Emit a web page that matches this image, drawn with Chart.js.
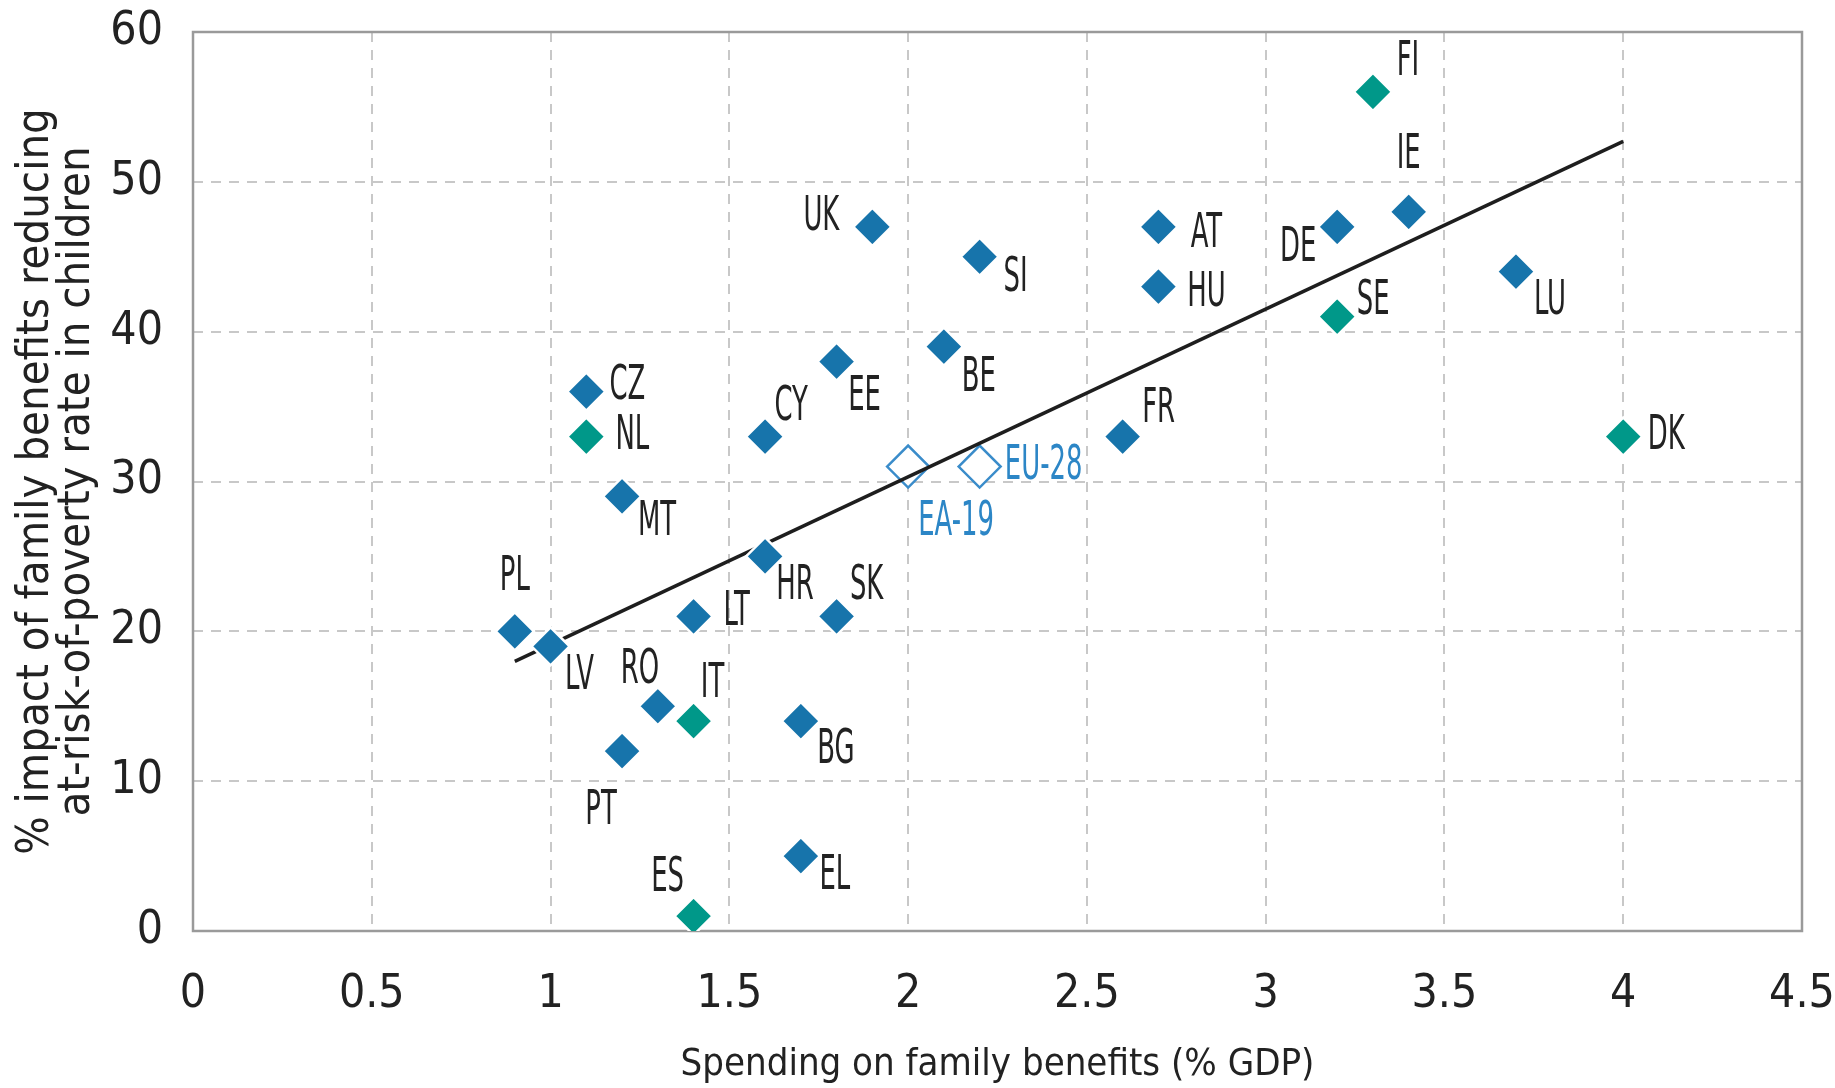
<!DOCTYPE html>
<html>
<head>
<meta charset="utf-8">
<script src="https://cdn.jsdelivr.net/npm/chart.js@4.4.1/dist/chart.umd.min.js"></script>
<style>
  html, body { margin: 0; padding: 0; background: #fff; }
  #wrap { width: 1835px; height: 1088px; position: relative; }
</style>
</head>
<body>
<div id="wrap"><canvas id="chart"></canvas></div>
<script>
// country codes, spending (% GDP), impact on child poverty (%), group
const countries = ['FI', 'IE', 'UK', 'SI', 'AT', 'HU', 'DE', 'SE', 'LU', 'BE', 'EE', 'CZ', 'NL', 'CY', 'FR', 'DK',
  'EA-19', 'EU-28', 'MT', 'HR', 'PL', 'LV', 'LT', 'SK', 'RO', 'IT', 'BG', 'PT', 'EL', 'ES'];
const spending = [3.3, 3.4, 1.9, 2.2, 2.7, 2.7, 3.2, 3.2, 3.7, 2.1, 1.8, 1.1, 1.1, 1.6, 2.6, 4.0,
  2.0, 2.2, 1.2, 1.6, 0.9, 1.0, 1.4, 1.8, 1.3, 1.4, 1.7, 1.2, 1.7, 1.4];
const impact = [56, 48, 47, 45, 47, 43, 47, 41, 44, 39, 38, 36, 33, 33, 33, 33,
  31, 31, 29, 25, 20, 19, 21, 21, 15, 14, 14, 12, 5, 1];
// b = blue, t = teal, a = EU / euro area aggregate
const groups = ['t', 'b', 'b', 'b', 'b', 'b', 'b', 't', 'b', 'b', 'b', 'b', 't', 'b', 'b', 't',
  'a', 'a', 'b', 'b', 'b', 'b', 'b', 'b', 'b', 't', 'b', 'b', 'b', 't'];

// linear fit, end points
const trendX = [0.9, 4.0];
const trendY = [18.0, 52.7];

const xTicks = [0, 0.5, 1, 1.5, 2, 2.5, 3, 3.5, 4, 4.5];
const yTicks = [0, 10, 20, 30, 40, 50, 60];

// where each label sits relative to its marker (px)
const labelOffset = {
  'FI': [35, -29], 'IE': [0, -56], 'UK': [-51, -9], 'SI': [36, 22], 'AT': [48, 8], 'HU': [48, 7],
  'DE': [-39, 22], 'SE': [36, -15], 'LU': [34, 30], 'BE': [35, 32], 'EE': [28, 36], 'CZ': [41, -5],
  'NL': [46, 0], 'CY': [26, -29], 'FR': [36, -27], 'DK': [43, 0], 'EA-19': [48, 56], 'EU-28': [64, 0],
  'MT': [35, 26], 'HR': [30, 30], 'PL': [0, -54], 'LV': [29, 30], 'LT': [43, -4], 'SK': [30, -30],
  'RO': [-18, -36], 'IT': [19, -37], 'BG': [35, 29], 'PT': [-21, 60], 'EL': [34, 20], 'ES': [-26, -37]
};

const BLUE = '#1774ab';
const TEAL = '#009889';
const AGG = '#3a8cca';
const NARROW = '"Liberation Sans Narrow", "DejaVu Sans Condensed", sans-serif';

function pointsOf(g) {
  const pts = [];
  countries.forEach((c, i) => {
    if (groups[i] === g) pts.push({ x: spending[i], y: impact[i], c: c });
  });
  return pts;
}

// fixed box sizes so the plot area lands where the original one is
function fixPadding(s) {
  s.paddingTop = 0;
  s.paddingBottom = 0;
  s.paddingLeft = 0;
  s.paddingRight = 0;
}

const boxPlugin = {
  id: 'box',
  beforeDatasetsDraw(chart) {
    const a = chart.chartArea;
    const ctx = chart.ctx;
    ctx.save();
    ctx.strokeStyle = '#9a9a9a';
    ctx.lineWidth = 2.5;
    ctx.strokeRect(a.left, a.top, a.right - a.left, a.bottom - a.top);
    ctx.restore();
  }
};

const labelPlugin = {
  id: 'pointLabels',
  afterDatasetsDraw(chart) {
    const ctx = chart.ctx;
    ctx.save();
    ctx.font = '48px ' + NARROW;
    ctx.textAlign = 'center';
    ctx.textBaseline = 'middle';
    chart.data.datasets.forEach((ds, d) => {
      if (!ds.withLabels) return;
      const meta = chart.getDatasetMeta(d);
      meta.data.forEach((el, j) => {
        const code = ds.data[j].c;
        const off = labelOffset[code] || [30, 0];
        ctx.fillStyle = ds.labelColor;
        ctx.save();
        ctx.translate(el.x + off[0], el.y + off[1]);
        ctx.scale(0.6, 1);
        ctx.fillText(code, 0, 0);
        ctx.restore();
      });
    });
    ctx.restore();
  }
};

new Chart(document.getElementById('chart'), {
  type: 'scatter',
  data: {
    datasets: [
      {
        label: 'Member States',
        data: pointsOf('b'),
        pointStyle: 'rectRot',
        pointRadius: 19,
        backgroundColor: BLUE,
        borderColor: '#ffffff',
        borderWidth: 2.5,
        withLabels: true,
        labelColor: '#222222',
        order: 0
      },
      {
        label: 'Member States (teal)',
        data: pointsOf('t'),
        pointStyle: 'rectRot',
        pointRadius: 19,
        backgroundColor: TEAL,
        borderColor: '#ffffff',
        borderWidth: 2.5,
        withLabels: true,
        labelColor: '#222222',
        order: 0
      },
      {
        type: 'line',
        label: 'Trend',
        data: trendX.map((x, i) => ({ x: x, y: trendY[i] })),
        borderColor: '#1e1e1e',
        borderWidth: 3.5,
        pointRadius: 0,
        fill: false,
        order: 1
      },
      {
        label: 'Aggregates',
        data: pointsOf('a'),
        pointStyle: 'rectRot',
        pointRadius: 21,
        backgroundColor: '#ffffff',
        borderColor: AGG,
        borderWidth: 2.5,
        withLabels: true,
        labelColor: '#2c86c6',
        order: 2
      }
    ]
  },
  options: {
    responsive: true,
    maintainAspectRatio: false,
    animation: false,
    layout: { padding: { top: 32, right: 33, left: 0, bottom: 0 } },
    plugins: {
      legend: { display: false },
      tooltip: { enabled: false }
    },
    scales: {
      x: {
        type: 'linear',
        min: 0,
        max: 4.5,
        afterBuildTicks: s => { s.ticks = xTicks.map(v => ({ value: v })); },
        afterFit: s => { s.height = 157; fixPadding(s); },
        grid: { color: '#c8c8c8', lineWidth: 2, drawTicks: false },
        border: { display: false, dash: [10, 8] },
        ticks: {
          font: { family: NARROW, size: 46 },
          color: '#222222',
          padding: 36,
          maxRotation: 0,
          callback: v => String(v)
        },
        title: {
          display: true,
          text: 'Spending on family benefits (% GDP)',
          font: { family: NARROW, size: 38 },
          color: '#222222',
          padding: { top: 0, bottom: 0 }
        }
      },
      y: {
        type: 'linear',
        min: 0,
        max: 60,
        afterBuildTicks: s => { s.ticks = yTicks.map(v => ({ value: v })); },
        afterFit: s => { s.width = 193; fixPadding(s); },
        grid: { color: '#c8c8c8', lineWidth: 2, drawTicks: false },
        border: { display: false, dash: [10, 8] },
        ticks: {
          font: { family: NARROW, size: 46 },
          color: '#222222',
          padding: 30,
          callback: v => String(v)
        },
        title: {
          display: true,
          text: ['% impact of family benefits reducing', 'at-risk-of-poverty rate in children'],
          font: { family: NARROW, size: 45, lineHeight: 0.91 },
          color: '#222222',
          padding: { top: 16, bottom: 0 }
        }
      }
    }
  },
  plugins: [boxPlugin, labelPlugin]
});
</script>
</body>
</html>
